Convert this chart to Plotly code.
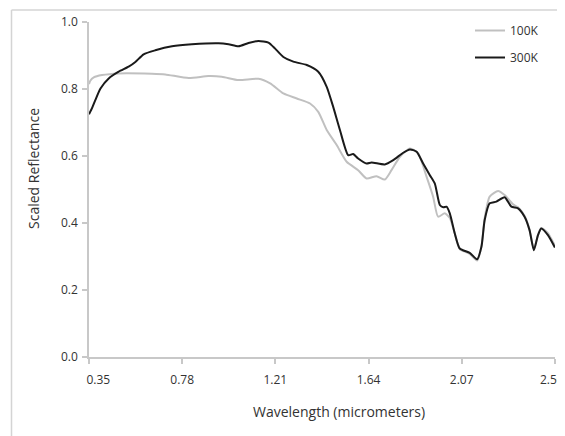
import plotly.graph_objects as go

# ---- data ----
wl_100k = [0.35, 0.356, 0.372, 0.41, 0.487, 0.64, 0.702, 0.81, 0.901, 0.963, 1.04, 1.132,
           1.186, 1.247, 1.309, 1.37, 1.408, 1.447, 1.493, 1.539, 1.592, 1.631, 1.677,
           1.715, 1.746, 1.785, 1.831, 1.869, 1.908, 1.938, 1.961, 1.992, 2.015, 2.038,
           2.061, 2.107, 2.141, 2.161, 2.176, 2.199, 2.238, 2.268, 2.307, 2.33, 2.36,
           2.383, 2.403, 2.422, 2.437, 2.468, 2.49, 2.5]
refl_100k = [0.815, 0.825, 0.835, 0.842, 0.847, 0.846, 0.844, 0.833, 0.839, 0.837, 0.827, 0.831,
             0.817, 0.787, 0.772, 0.757, 0.732, 0.678, 0.633, 0.583, 0.558, 0.533, 0.54,
             0.53, 0.558, 0.598, 0.623, 0.608, 0.538, 0.479, 0.419, 0.429, 0.415, 0.369,
             0.322, 0.308, 0.288, 0.33, 0.415, 0.479, 0.496, 0.484, 0.456, 0.447, 0.422,
             0.38, 0.322, 0.365, 0.385, 0.37, 0.345, 0.334]

wl_300k = [0.35, 0.365, 0.379, 0.403, 0.441, 0.487, 0.533, 0.564, 0.602, 0.656, 0.733, 0.825,
           0.948, 0.994, 1.04, 1.086, 1.132, 1.178, 1.209, 1.247, 1.293, 1.355, 1.408,
           1.447, 1.477, 1.508, 1.546, 1.569, 1.592, 1.631, 1.654, 1.715, 1.754, 1.8,
           1.831, 1.862, 1.892, 1.923, 1.946, 1.969, 1.985, 2.0, 2.015, 2.038, 2.061,
           2.107, 2.141, 2.161, 2.176, 2.199, 2.23, 2.268, 2.299, 2.33, 2.36, 2.383,
           2.403, 2.422, 2.437, 2.468, 2.5]
refl_300k = [0.725, 0.745, 0.767, 0.802, 0.832, 0.852, 0.867, 0.881, 0.904, 0.916, 0.928, 0.934,
             0.937, 0.934, 0.928, 0.938, 0.944, 0.939, 0.921, 0.896, 0.882, 0.872, 0.852,
             0.807, 0.747, 0.678, 0.603, 0.606, 0.593, 0.578, 0.581, 0.575, 0.588, 0.61,
             0.62, 0.613, 0.578, 0.543, 0.518, 0.454, 0.447, 0.449, 0.429, 0.369, 0.324,
             0.311, 0.292, 0.329, 0.409, 0.459, 0.464, 0.477, 0.449, 0.444, 0.419, 0.379,
             0.319, 0.364, 0.384, 0.364, 0.327]

x_ticks = [0.35, 0.78, 1.21, 1.64, 2.07, 2.50]
x_tick_labels = ["0.35", "0.78", "1.21", "1.64", "2.07", "2.50"]
y_ticks = [0.0, 0.2, 0.4, 0.6, 0.8, 1.0]

W, H = 565, 436
OFF = 8  # page body margin
ML, MR, MT, MB = 81, 18, 14, 87
pw, ph = W - ML - MR, H - MT - MB

def px_x(sx):
    return (sx - OFF - ML) / pw

def px_y(sy):
    return (H - MB - (sy - OFF)) / ph

FONT = "Open Sans"
TXT = "#333333"
AX = "#c8c8c8"
NB = "\u00a0"

# first label sits right of its tick (inside the axis), last one nudged left
shown_x_labels = list(x_tick_labels)
shown_x_labels[0] = NB * 6 + shown_x_labels[0]
shown_x_labels[-1] = shown_x_labels[-1] + NB * 2

fig = go.Figure()
fig.add_trace(go.Scatter(x=wl_100k, y=refl_100k, mode="lines", name="100K",
                         legendgroup="a",
                         line=dict(color="#c0c0c0", width=2, shape="spline", smoothing=0.6)))
fig.add_trace(go.Scatter(x=wl_300k, y=refl_300k, mode="lines", name="300K",
                         legendgroup="b",
                         line=dict(color="#1a1a1a", width=2, shape="spline", smoothing=0.6)))

fig.update_layout(
    width=W, height=H,
    margin=dict(l=ML, r=MR, t=MT, b=MB, pad=0, autoexpand=False),
    paper_bgcolor="white", plot_bgcolor="white",
    font=dict(family=FONT, size=12, color=TXT),
    showlegend=True,
    legend=dict(xref="container", yref="container",
                x=(470 - OFF) / W, y=1.0 - 8 / H, xanchor="left", yanchor="top",
                bgcolor="rgba(0,0,0,0)", tracegroupgap=8,
                font=dict(family=FONT, size=12, color=TXT)),
    xaxis=dict(range=[0.35, 2.5005], tickvals=x_ticks, ticktext=shown_x_labels,
               showgrid=False, zeroline=False, showline=True, linecolor=AX, linewidth=1.5,
               ticks="outside", ticklen=5, tickcolor=AX, tickwidth=1.5,
               ticklabelstandoff=6),
    yaxis=dict(range=[0, 1.0005], tickvals=y_ticks, tickformat=".1f",
               showgrid=False, zeroline=False, showline=True, linecolor=AX, linewidth=1.5,
               ticks="outside", ticklen=5, tickcolor=AX, tickwidth=1.5,
               ticklabelstandoff=2),
    annotations=[
        dict(text="Wavelength (micrometers)", xref="paper", yref="paper",
             x=px_x(338.5), y=px_y(411), showarrow=False, xanchor="center", yanchor="middle",
             font=dict(family=FONT, size=14, color=TXT)),
        dict(text="Scaled Reflectance", xref="paper", yref="paper", textangle=-90,
             x=px_x(33), y=px_y(169), showarrow=False, xanchor="center", yanchor="middle",
             font=dict(family=FONT, size=14, color=TXT)),
    ],
)

frame_color = "#d4d4d4"
fig.add_shape(type="line", xref="paper", yref="paper", layer="above",
              x0=px_x(11.5), x1=px_x(566), y0=px_y(10), y1=px_y(10),
              line=dict(color=frame_color, width=1.5))
fig.add_shape(type="line", xref="paper", yref="paper", layer="above",
              x0=px_x(11.5), x1=px_x(11.5), y0=px_y(10), y1=px_y(437),
              line=dict(color=frame_color, width=1.5))

fig.write_html("out.html")
